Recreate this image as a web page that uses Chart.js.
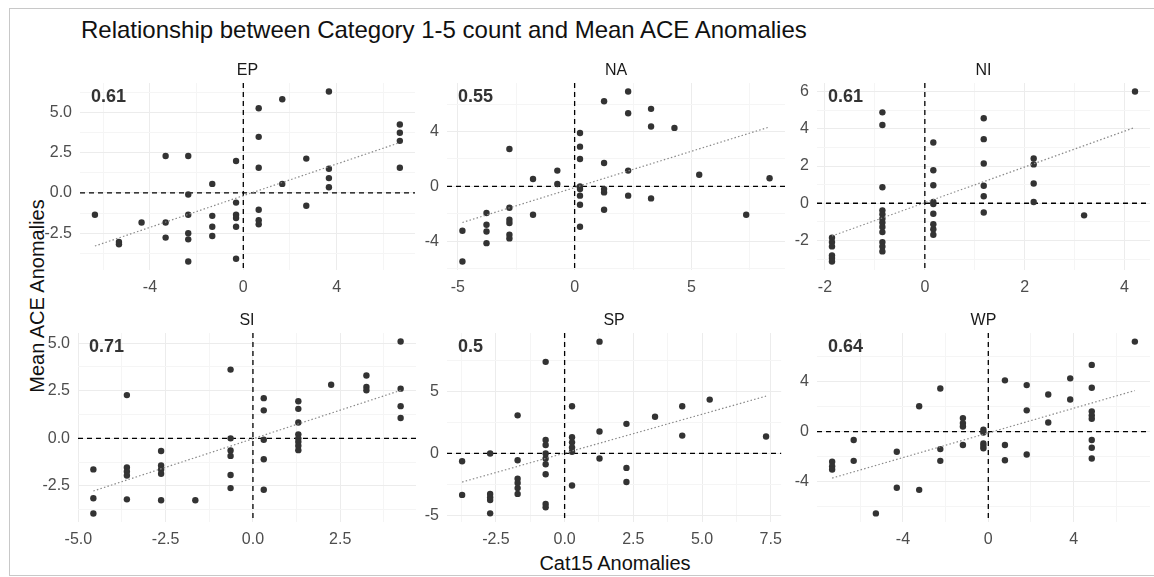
<!DOCTYPE html>
<html lang="en-US">
<head>
<meta charset="utf-8">
<script src="https://cdn.jsdelivr.net/npm/chart.js@4.4.0/dist/chart.umd.min.js"></script>
<style>
  body { margin:0; background:#fff; }
  #wrap { position:relative; width:1154px; height:577px; overflow:hidden; font-family:"Liberation Sans", Arial, sans-serif; }
  #frame { position:absolute; left:9px; top:8px; width:1160px; height:566px; border-left:1px solid #c8c8c8; border-top:1px solid #c8c8c8; border-bottom:1px solid #c8c8c8; }
  #title { position:absolute; left:81px; top:16px; font-size:24px; color:#111; white-space:nowrap; }
  #ytitle { position:absolute; left:37px; top:296px; font-size:20px; color:#111; white-space:nowrap; transform:translate(-50%,-50%) rotate(-90deg); }
  #xtitle { position:absolute; left:615px; top:563px; font-size:20px; color:#111; white-space:nowrap; transform:translate(-50%,-50%); }
  canvas { position:absolute; }
</style>
</head>
<body>
<div id="wrap">
  <div id="frame"></div>
  <div id="title">Relationship between Category 1-5 count and Mean ACE Anomalies</div>
  <div id="ytitle">Mean ACE Anomalies</div>
  <div id="xtitle">Cat15 Anomalies</div>
  <canvas id="c0" width="390" height="245" style="left:30px;top:55px;"></canvas>
  <canvas id="c1" width="370" height="245" style="left:420px;top:55px;"></canvas>
  <canvas id="c2" width="364" height="245" style="left:790px;top:55px;"></canvas>
  <canvas id="c3" width="390" height="245" style="left:30px;top:305px;"></canvas>
  <canvas id="c4" width="370" height="245" style="left:420px;top:305px;"></canvas>
  <canvas id="c5" width="364" height="245" style="left:790px;top:305px;"></canvas>
</div>
<script>
// facet labels and correlation annotations
var regions    = ['EP', 'NA', 'NI', 'SI', 'SP', 'WP'];
var corrLabels = ['0.61', '0.55', '0.61', '0.71', '0.5', '0.64'];

// Cat15 anomalies (x) / mean ACE anomalies (y), per basin
var EP_x = [-6.36,-5.33,-5.33,-4.36,-3.33,-3.33,-3.33,-2.36,-2.36,-2.36,-2.36,-2.36,-2.36,-1.33,-1.33,-1.33,-1.33,-0.31,-0.31,-0.31,-0.31,-0.31,-0.31,0.66,0.66,0.66,0.66,0.66,0.66,1.67,1.67,2.7,2.7,3.67,3.67,3.67,3.67,6.71,6.71,6.71,6.71];
var EP_y = [-1.35,-3.04,-3.19,-1.83,2.29,-1.83,-2.77,2.29,-0.1,-1.35,-2.5,-2.88,-4.25,0.56,-1.42,-2.1,-2.67,1.98,-0.6,-1.35,-1.55,-2.1,-4.08,5.25,3.48,1.56,-1.04,-1.69,-1.94,5.81,0.56,2.13,-0.79,6.29,1.5,0.92,0.35,4.25,3.73,3.23,1.56];

var NA_x = [-4.8,-4.8,-3.77,-3.77,-3.77,-3.77,-2.79,-2.79,-2.79,-2.79,-2.79,-2.79,-1.78,-1.78,-0.74,-0.74,0.23,0.23,0.23,0.23,0.23,0.23,0.23,0.23,1.26,1.26,1.26,1.26,1.26,2.29,2.29,2.29,2.29,3.27,3.27,3.27,4.27,5.33,7.34,8.34];
var NA_y = [-5.49,-3.24,-1.95,-2.8,-3.3,-4.15,2.73,-1.56,-2.44,-2.68,-3.54,-3.8,0.54,-2.07,1.15,0.17,3.9,2.9,2.0,0.0,-0.2,-0.68,-1.34,-2.95,6.22,1.71,-0.2,-0.44,-1.71,6.93,5.34,1.15,-0.68,5.66,4.37,-0.88,4.27,0.85,-2.07,0.59];

var NI_x = [-1.86,-1.86,-1.86,-1.86,-1.86,-1.86,-0.85,-0.85,-0.85,-0.85,-0.85,-0.85,-0.85,-0.85,-0.85,-0.85,-0.85,-0.85,0.17,0.17,0.17,0.17,0.17,0.17,0.17,0.17,0.17,1.18,1.18,1.18,1.18,1.18,1.18,2.18,2.18,2.18,2.18,3.19,4.21];
var NI_y = [-1.85,-2.09,-2.32,-2.81,-2.95,-3.13,4.89,4.21,0.86,-0.38,-0.59,-0.83,-1.04,-1.28,-1.55,-2.09,-2.32,-2.59,3.27,1.78,0.97,0.07,-0.04,-0.56,-1.13,-1.4,-1.69,4.57,3.45,2.14,0.94,0.38,-0.5,2.41,2.09,1.06,0.07,-0.65,6.01];

var SI_x = [-4.57,-4.57,-4.57,-3.61,-3.61,-3.61,-3.61,-3.61,-2.63,-2.63,-2.63,-2.63,-2.63,-1.65,-0.64,-0.64,-0.64,-0.64,-0.64,-0.64,0.31,0.31,0.31,0.31,0.31,1.3,1.3,1.3,1.3,1.3,1.3,1.3,1.3,2.24,3.25,3.25,3.25,4.23,4.23,4.23,4.23];
var SI_y = [-1.63,-3.14,-3.94,2.27,-1.53,-1.74,-1.95,-3.2,-0.66,-1.42,-1.63,-1.86,-3.25,-3.25,3.61,0.0,-0.64,-0.92,-1.92,-2.61,2.11,1.47,-0.07,-1.1,-2.7,1.95,1.55,0.83,0.21,0.0,-0.18,-0.39,-0.62,2.81,3.3,2.7,2.52,5.08,2.61,1.69,1.07];

var SP_x = [-3.73,-3.73,-2.71,-2.71,-2.71,-2.71,-2.71,-1.71,-1.71,-1.71,-1.71,-1.71,-1.71,-0.69,-0.69,-0.69,-0.69,-0.69,-0.69,-0.69,-0.69,-0.69,0.27,0.27,0.27,0.27,0.27,0.27,1.27,1.27,1.27,2.25,2.25,2.25,3.29,4.28,4.28,5.28,7.33];
var SP_y = [-0.63,-3.36,0.0,-3.28,-3.55,-3.77,-4.86,3.09,-0.55,-2.05,-2.4,-2.81,-3.28,7.43,1.09,0.68,0.0,-0.41,-0.87,-1.69,-4.1,-4.37,3.83,1.31,0.9,0.49,0.14,-2.6,9.07,1.78,-0.41,2.4,-1.17,-2.32,2.98,3.83,1.45,4.37,1.37];

var WP_x = [-7.32,-7.32,-7.32,-6.31,-6.31,-5.27,-4.29,-4.29,-3.24,-3.24,-2.25,-2.25,-2.25,-1.19,-1.19,-1.19,-1.19,-0.23,-0.23,-0.23,-0.23,-0.23,0.78,0.78,0.78,1.8,1.8,1.8,2.81,2.81,3.84,3.84,4.85,4.85,4.85,4.85,4.85,4.85,4.85,4.85,6.87];
var WP_y = [-2.43,-2.78,-3.05,-0.68,-2.35,-6.57,-1.62,-4.51,2.03,-4.68,3.46,-1.41,-2.35,1.08,0.68,0.41,-1.08,0.14,-0.08,-0.95,-1.16,-1.35,4.11,-1.08,-2.3,3.73,1.7,-1.84,2.97,0.73,4.27,2.57,5.35,3.51,1.62,1.3,1.03,-0.68,-1.3,-2.16,7.22];

// lm fit per panel: [slope, intercept]
var fits = [[0.491, -0.17], [0.531, -0.09], [0.962, 0.03], [0.6, -0.02], [0.63, 0.03], [0.495, -0.11]];

// axis limits and tick labels
var xRanges = [[-7.0, 7.36], [-5.46, 9.0], [-2.16, 4.51], [-5.01, 4.67], [-4.28, 7.88], [-8.03, 7.58]];
var yRanges = [[-4.78, 6.82], [-6.11, 7.55], [-3.59, 6.47], [-4.39, 5.53], [-5.56, 9.77], [-7.26, 7.91]];
var xTicks  = [[-4, 0, 4], [-5, 0, 5], [-2, 0, 2, 4], [-5, -2.5, 0, 2.5], [-2.5, 0, 2.5, 5, 7.5], [-4, 0, 4]];
var yTicks  = [[-2.5, 0, 2.5, 5], [-4, 0, 4], [-2, 0, 2, 4, 6], [-2.5, 0, 2.5, 5], [-5, 0, 5], [-4, 0, 4]];

var xData = [EP_x, NA_x, NI_x, SI_x, SP_x, WP_x];
var yData = [EP_y, NA_y, NI_y, SI_y, SP_y, WP_y];

// layout of each panel inside its canvas
var yAxisW  = [50, 27, 27, 48, 27, 27];
var padR    = [5, 5, 1, 3, 5, 1];
var xAxisH  = [30, 30, 30, 28, 28, 28];

Chart.defaults.font.family = '"Liberation Sans", Arial, sans-serif';
Chart.defaults.animation = false;

function tickList(major, range)
{
	var step = major[1] - major[0];
	var list = [];
	major.forEach(function(v) { list.push({ value: v, minor: false }); });
	list.push({ value: major[0] - step / 2, minor: true });
	for (var i = 0; i < major.length; i++)
		list.push({ value: major[i] + step / 2, minor: true });
	return list.filter(function(t) { return t.value >= range[0] && t.value <= range[1]; })
	           .sort(function(a, b) { return a.value - b.value; });
}

function fmt(major)
{
	var dec = major.some(function(v) { return Math.round(v) !== v; }) ? 1 : 0;
	return function(value, index, ticks) {
		if (ticks[index].minor) return '';
		return value.toFixed(dec);
	};
}

var panelDecor = {
	id: 'panelDecor',
	beforeDatasetsDraw: function(chart, args, opts)
	{
		var ctx = chart.ctx, a = chart.chartArea;
		var x0 = chart.scales.x.getPixelForValue(0);
		var y0 = chart.scales.y.getPixelForValue(0);
		ctx.save();
		ctx.strokeStyle = '#000';
		ctx.lineWidth = 1.3;
		ctx.setLineDash([5, 4]);
		ctx.beginPath();
		ctx.moveTo(a.left, y0); ctx.lineTo(a.right, y0);
		ctx.moveTo(x0, a.top); ctx.lineTo(x0, a.bottom);
		ctx.stroke();
		ctx.restore();
	},
	afterDraw: function(chart, args, opts)
	{
		var ctx = chart.ctx, a = chart.chartArea;
		ctx.save();
		ctx.textBaseline = 'middle';
		ctx.fillStyle = '#1a1a1a';
		ctx.font = '16px "Liberation Sans", Arial, sans-serif';
		ctx.textAlign = 'center';
		ctx.fillText(opts.strip, (a.left + a.right) / 2, a.top - 12);
		ctx.fillStyle = '#333';
		ctx.font = 'bold 18px "Liberation Sans", Arial, sans-serif';
		ctx.textAlign = 'left';
		ctx.fillText(opts.corr, a.left + 11, a.top + 14);
		ctx.restore();
	}
};

function makePanel(i)
{
	var xs = xData[i], ys = yData[i];
	var pts = xs.map(function(x, k) { return { x: x, y: ys[k] }; });
	var xmin = Math.min.apply(null, xs), xmax = Math.max.apply(null, xs);
	var fit = fits[i];
	var line = [{ x: xmin, y: fit[1] + fit[0] * xmin }, { x: xmax, y: fit[1] + fit[0] * xmax }];

	var gridColor = function(c) { return c.tick && c.tick.minor ? '#f5f5f5' : '#ececec'; };

	new Chart(document.getElementById('c' + i), {
		type: 'scatter',
		data: {
			datasets: [
				{ type: 'line', data: line, borderColor: '#8a8a8a', borderWidth: 1.2, borderDash: [1.5, 2.2], pointRadius: 0, fill: false },
				{ data: pts, backgroundColor: '#333', borderWidth: 0, pointRadius: 3.2 }
			]
		},
		options: {
			responsive: false,
			layout: { padding: { top: 28, right: padR[i], left: 0, bottom: 0 } },
			plugins: {
				legend: { display: false },
				tooltip: { enabled: false },
				panelDecor: { strip: regions[i], corr: corrLabels[i] }
			},
			scales: {
				x: {
					type: 'linear', min: xRanges[i][0], max: xRanges[i][1],
					afterBuildTicks: function(s) { s.ticks = tickList(xTicks[i], xRanges[i]); },
					afterFit: function(s) { s.height = xAxisH[i]; },
					grid: { color: gridColor, drawTicks: false, lineWidth: 1 },
					border: { display: false },
					ticks: { callback: fmt(xTicks[i]), autoSkip: false, maxRotation: 0, padding: 8, color: '#4d4d4d', font: { size: 16 } }
				},
				y: {
					type: 'linear', min: yRanges[i][0], max: yRanges[i][1],
					afterBuildTicks: function(s) { s.ticks = tickList(yTicks[i], yRanges[i]); },
					afterFit: function(s) { s.width = yAxisW[i]; },
					grid: { color: gridColor, drawTicks: false, lineWidth: 1 },
					border: { display: false },
					ticks: { callback: fmt(yTicks[i]), autoSkip: false, padding: 8, color: '#4d4d4d', font: { size: 16 } }
				}
			}
		},
		plugins: [panelDecor]
	});
}

for (var i = 0; i < regions.length; i++) makePanel(i);
</script>
</body>
</html>
